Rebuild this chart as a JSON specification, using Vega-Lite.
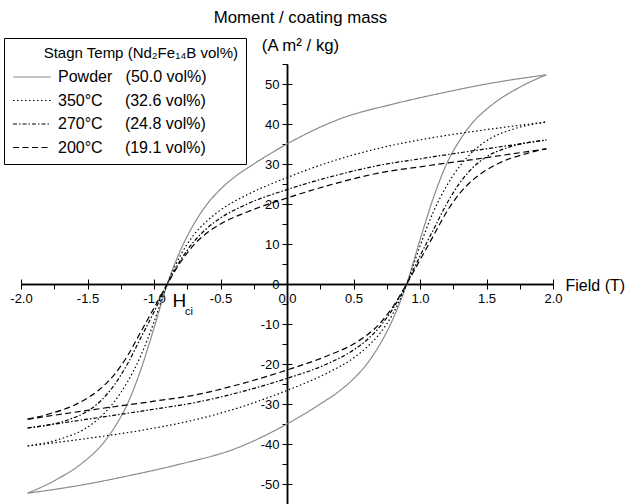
{
  "$schema": "https://vega.github.io/schema/vega-lite/v6.json",
  "width": 532,
  "height": 440,
  "autosize": {"type": "none"},
  "padding": {"left": 21, "top": 64, "right": 75, "bottom": 0},
  "config": {
    "font": "Liberation Sans",
    "view": {"stroke": null},
    "axis": {"grid": false, "domainColor": "black", "tickColor": "black", "labelColor": "black", "titleColor": "black", "domainWidth": 1.5, "tickWidth": 1, "labelFlush": false, "labelOverlap": false}
  },
  "datasets": {
    "loops": [
      {"s":"Powder","b":"l","x":-1.95,"y":-52.3},{"s":"Powder","b":"l","x":-1.5,"y":-50.0},{"s":"Powder","b":"l","x":-1.2,"y":-48.0},{"s":"Powder","b":"l","x":-0.8,"y":-45.0},{"s":"Powder","b":"l","x":-0.4,"y":-41.3},{"s":"Powder","b":"l","x":0,"y":-35.0},{"s":"Powder","b":"l","x":0.25,"y":-30.0},{"s":"Powder","b":"l","x":0.4,"y":-26.6},{"s":"Powder","b":"l","x":0.5,"y":-23.7},{"s":"Powder","b":"l","x":0.6,"y":-20},{"s":"Powder","b":"l","x":0.7,"y":-15},{"s":"Powder","b":"l","x":0.8,"y":-8.5},{"s":"Powder","b":"l","x":0.9,"y":0},{"s":"Powder","b":"l","x":1.0,"y":11},{"s":"Powder","b":"l","x":1.1,"y":21.5},{"s":"Powder","b":"l","x":1.2,"y":30},{"s":"Powder","b":"l","x":1.3,"y":36},{"s":"Powder","b":"l","x":1.4,"y":40.5},{"s":"Powder","b":"l","x":1.53,"y":44.5},{"s":"Powder","b":"l","x":1.75,"y":49.2},{"s":"Powder","b":"l","x":1.95,"y":52.3},
      {"s":"Powder","b":"u","x":1.95,"y":52.3},{"s":"Powder","b":"u","x":1.5,"y":50.0},{"s":"Powder","b":"u","x":1.2,"y":48.0},{"s":"Powder","b":"u","x":0.8,"y":45.0},{"s":"Powder","b":"u","x":0.4,"y":41.3},{"s":"Powder","b":"u","x":0,"y":35.0},{"s":"Powder","b":"u","x":-0.25,"y":30.0},{"s":"Powder","b":"u","x":-0.4,"y":26.6},{"s":"Powder","b":"u","x":-0.5,"y":23.7},{"s":"Powder","b":"u","x":-0.6,"y":20},{"s":"Powder","b":"u","x":-0.7,"y":15},{"s":"Powder","b":"u","x":-0.8,"y":8.5},{"s":"Powder","b":"u","x":-0.9,"y":0},{"s":"Powder","b":"u","x":-1.0,"y":-11},{"s":"Powder","b":"u","x":-1.1,"y":-21.5},{"s":"Powder","b":"u","x":-1.2,"y":-30},{"s":"Powder","b":"u","x":-1.3,"y":-36},{"s":"Powder","b":"u","x":-1.4,"y":-40.5},{"s":"Powder","b":"u","x":-1.53,"y":-44.5},{"s":"Powder","b":"u","x":-1.75,"y":-49.2},{"s":"Powder","b":"u","x":-1.95,"y":-52.3},
      {"s":"350°C","b":"l","x":-1.95,"y":-40.5},{"s":"350°C","b":"l","x":-1.5,"y":-38.6},{"s":"350°C","b":"l","x":-1.08,"y":-36.5},{"s":"350°C","b":"l","x":-0.7,"y":-34},{"s":"350°C","b":"l","x":-0.35,"y":-30.8},{"s":"350°C","b":"l","x":0,"y":-26.6},{"s":"350°C","b":"l","x":0.3,"y":-22.3},{"s":"350°C","b":"l","x":0.5,"y":-18.5},{"s":"350°C","b":"l","x":0.6,"y":-15.8},{"s":"350°C","b":"l","x":0.7,"y":-12.3},{"s":"350°C","b":"l","x":0.8,"y":-7.2},{"s":"350°C","b":"l","x":0.9,"y":0},{"s":"350°C","b":"l","x":1.0,"y":9.5},{"s":"350°C","b":"l","x":1.1,"y":18},{"s":"350°C","b":"l","x":1.2,"y":24.5},{"s":"350°C","b":"l","x":1.3,"y":29.5},{"s":"350°C","b":"l","x":1.4,"y":33.2},{"s":"350°C","b":"l","x":1.53,"y":36.4},{"s":"350°C","b":"l","x":1.7,"y":38.7},{"s":"350°C","b":"l","x":1.95,"y":40.5},
      {"s":"350°C","b":"u","x":1.95,"y":40.5},{"s":"350°C","b":"u","x":1.5,"y":38.6},{"s":"350°C","b":"u","x":1.08,"y":36.5},{"s":"350°C","b":"u","x":0.7,"y":34},{"s":"350°C","b":"u","x":0.35,"y":30.8},{"s":"350°C","b":"u","x":0,"y":26.6},{"s":"350°C","b":"u","x":-0.3,"y":22.3},{"s":"350°C","b":"u","x":-0.5,"y":18.5},{"s":"350°C","b":"u","x":-0.6,"y":15.8},{"s":"350°C","b":"u","x":-0.7,"y":12.3},{"s":"350°C","b":"u","x":-0.8,"y":7.2},{"s":"350°C","b":"u","x":-0.9,"y":0},{"s":"350°C","b":"u","x":-1.0,"y":-9.5},{"s":"350°C","b":"u","x":-1.1,"y":-18},{"s":"350°C","b":"u","x":-1.2,"y":-24.5},{"s":"350°C","b":"u","x":-1.3,"y":-29.5},{"s":"350°C","b":"u","x":-1.4,"y":-33.2},{"s":"350°C","b":"u","x":-1.53,"y":-36.4},{"s":"350°C","b":"u","x":-1.7,"y":-38.7},{"s":"350°C","b":"u","x":-1.95,"y":-40.5},
      {"s":"270°C","b":"l","x":-1.95,"y":-36},{"s":"270°C","b":"l","x":-1.5,"y":-33.8},{"s":"270°C","b":"l","x":-1.0,"y":-31.3},{"s":"270°C","b":"l","x":-0.7,"y":-29.7},{"s":"270°C","b":"l","x":-0.35,"y":-27},{"s":"270°C","b":"l","x":0,"y":-23.6},{"s":"270°C","b":"l","x":0.3,"y":-20},{"s":"270°C","b":"l","x":0.5,"y":-16.5},{"s":"270°C","b":"l","x":0.6,"y":-14},{"s":"270°C","b":"l","x":0.7,"y":-10.6},{"s":"270°C","b":"l","x":0.8,"y":-6},{"s":"270°C","b":"l","x":0.9,"y":0},{"s":"270°C","b":"l","x":1.0,"y":7},{"s":"270°C","b":"l","x":1.1,"y":13.5},{"s":"270°C","b":"l","x":1.2,"y":20},{"s":"270°C","b":"l","x":1.3,"y":25.3},{"s":"270°C","b":"l","x":1.4,"y":29.2},{"s":"270°C","b":"l","x":1.5,"y":31.8},{"s":"270°C","b":"l","x":1.65,"y":34},{"s":"270°C","b":"l","x":1.95,"y":36},
      {"s":"270°C","b":"u","x":1.95,"y":36},{"s":"270°C","b":"u","x":1.5,"y":33.8},{"s":"270°C","b":"u","x":1.0,"y":31.3},{"s":"270°C","b":"u","x":0.7,"y":29.7},{"s":"270°C","b":"u","x":0.35,"y":27},{"s":"270°C","b":"u","x":0,"y":23.6},{"s":"270°C","b":"u","x":-0.3,"y":20},{"s":"270°C","b":"u","x":-0.5,"y":16.5},{"s":"270°C","b":"u","x":-0.6,"y":14},{"s":"270°C","b":"u","x":-0.7,"y":10.6},{"s":"270°C","b":"u","x":-0.8,"y":6},{"s":"270°C","b":"u","x":-0.9,"y":0},{"s":"270°C","b":"u","x":-1.0,"y":-7},{"s":"270°C","b":"u","x":-1.1,"y":-13.5},{"s":"270°C","b":"u","x":-1.2,"y":-20},{"s":"270°C","b":"u","x":-1.3,"y":-25.3},{"s":"270°C","b":"u","x":-1.4,"y":-29.2},{"s":"270°C","b":"u","x":-1.5,"y":-31.8},{"s":"270°C","b":"u","x":-1.65,"y":-34},{"s":"270°C","b":"u","x":-1.95,"y":-36},
      {"s":"200°C","b":"l","x":-1.95,"y":-33.8},{"s":"200°C","b":"l","x":-1.5,"y":-31.6},{"s":"200°C","b":"l","x":-1.0,"y":-29.3},{"s":"200°C","b":"l","x":-0.7,"y":-27.8},{"s":"200°C","b":"l","x":-0.35,"y":-25},{"s":"200°C","b":"l","x":0,"y":-21.5},{"s":"200°C","b":"l","x":0.3,"y":-18},{"s":"200°C","b":"l","x":0.5,"y":-15},{"s":"200°C","b":"l","x":0.6,"y":-12.8},{"s":"200°C","b":"l","x":0.7,"y":-9.8},{"s":"200°C","b":"l","x":0.8,"y":-5.5},{"s":"200°C","b":"l","x":0.9,"y":0},{"s":"200°C","b":"l","x":1.0,"y":6},{"s":"200°C","b":"l","x":1.1,"y":12},{"s":"200°C","b":"l","x":1.2,"y":18},{"s":"200°C","b":"l","x":1.3,"y":22.7},{"s":"200°C","b":"l","x":1.4,"y":26.1},{"s":"200°C","b":"l","x":1.5,"y":28.5},{"s":"200°C","b":"l","x":1.6,"y":30.3},{"s":"200°C","b":"l","x":1.8,"y":32.6},{"s":"200°C","b":"l","x":1.95,"y":33.8},
      {"s":"200°C","b":"u","x":1.95,"y":33.8},{"s":"200°C","b":"u","x":1.5,"y":31.6},{"s":"200°C","b":"u","x":1.0,"y":29.3},{"s":"200°C","b":"u","x":0.7,"y":27.8},{"s":"200°C","b":"u","x":0.35,"y":25},{"s":"200°C","b":"u","x":0,"y":21.5},{"s":"200°C","b":"u","x":-0.3,"y":18},{"s":"200°C","b":"u","x":-0.5,"y":15},{"s":"200°C","b":"u","x":-0.6,"y":12.8},{"s":"200°C","b":"u","x":-0.7,"y":9.8},{"s":"200°C","b":"u","x":-0.8,"y":5.5},{"s":"200°C","b":"u","x":-0.9,"y":0},{"s":"200°C","b":"u","x":-1.0,"y":-6},{"s":"200°C","b":"u","x":-1.1,"y":-12},{"s":"200°C","b":"u","x":-1.2,"y":-18},{"s":"200°C","b":"u","x":-1.3,"y":-22.7},{"s":"200°C","b":"u","x":-1.4,"y":-26.1},{"s":"200°C","b":"u","x":-1.5,"y":-28.5},{"s":"200°C","b":"u","x":-1.6,"y":-30.3},{"s":"200°C","b":"u","x":-1.8,"y":-32.6},{"s":"200°C","b":"u","x":-1.95,"y":-33.8}
    ]
  },
  "resolve": {"axis": {"x": "independent", "y": "independent"}},
  "layer": [
    {
      "data": {"name": "loops"},
      "mark": {"type": "line", "interpolate": "monotone", "strokeWidth": 1.2},
      "encoding": {
        "x": {"field": "x", "type": "quantitative", "scale": {"domain": [-2, 2], "nice": false, "zero": false},
          "axis": {"orient": "bottom", "offset": -220, "values": [-2,-1.75,-1.5,-1.25,-1,-0.75,-0.5,-0.25,0,0.25,0.5,0.75,1,1.25,1.5,1.75,2], "tickSize": 5, "labelFontSize": 13, "labelPadding": 3,
            "labelExpr": "abs(datum.value*2-round(datum.value*2))<0.01 ? (datum.value<0?'-':'')+format(abs(datum.value),'.1f') : ''",
            "title": "Field (T)", "titleX": 544, "titleY": 1, "titleAlign": "left", "titleBaseline": "middle", "titleAngle": 0, "titleFontSize": 16, "titleFontWeight": "normal"}},
        "y": {"field": "y", "type": "quantitative", "scale": {"domain": [-55, 55], "nice": false, "zero": false},
          "axis": {"orient": "left", "offset": -266, "values": [-55,-50,-45,-40,-35,-30,-25,-20,-15,-10,-5,0,5,10,15,20,25,30,35,40,45,50,55], "tickSize": 5, "labelFontSize": 13, "labelPadding": 3,
            "labelExpr": "datum.value%10===0 ? (datum.value<0?'-':'')+format(abs(datum.value),'d') : ''",
            "title": ["Moment / coating mass", "(A m² / kg)"], "titleAngle": 0, "titleX": 13, "titleY": -41.5, "titleAlign": "center", "titleBaseline": "alphabetic", "titleFontSize": 16.8, "titleLineHeight": 28, "titleFontWeight": "normal"}},
        "detail": {"field": "b"},
        "order": {"field": "x", "type": "quantitative"},
        "color": {"field": "s", "type": "nominal", "scale": {"domain": ["Powder", "350°C", "270°C", "200°C"], "range": ["#8c8c8c", "black", "black", "black"]},
          "legend": {"title": "Stagn Temp (Nd₂Fe₁₄B vol%)", "orient": "none", "legendX": -17, "legendY": -26, "direction": "vertical", "strokeColor": "black", "fillColor": "white", "padding": 8, "symbolType": "stroke", "symbolSize": 1444, "symbolStrokeWidth": 1.2, "clipHeight": 16, "labelFontSize": 16, "labelOffset": 6, "labelLimit": 400, "titleLimit": 400, "titleFontSize": 15, "titleFontWeight": "normal", "titleAnchor": "end", "titlePadding": 8, "rowPadding": 7.5, "labelColor": "black", "titleColor": "black",
            "labelExpr": "datum.label==='Powder' ? 'Powder\u00a0\u00a0\u00a0(50.0 vol%)\u00a0\u00a0\u00a0\u00a0\u00a0\u00a0\u00a0\u200b' : datum.label==='350°C' ? '350°C\u00a0\u00a0\u00a0\u00a0\u00a0(32.6 vol%)' : datum.label==='270°C' ? '270°C\u00a0\u00a0\u00a0\u00a0\u00a0(24.8 vol%)' : '200°C\u00a0\u00a0\u00a0\u00a0\u00a0(19.1 vol%)'"}},
        "strokeDash": {"field": "s", "type": "nominal", "scale": {"domain": ["Powder", "350°C", "270°C", "200°C"], "range": [[1, 0], [1.5, 2.5], [4, 2, 1.5, 2], [6, 3.5]]}}
      }
    },
    {
      "data": {"values": [{"t": "H", "x": -0.81, "y": -5.75}]},
      "mark": {"type": "text", "fontSize": 19, "align": "center", "baseline": "alphabetic", "color": "black"},
      "encoding": {
        "text": {"field": "t"},
        "x": {"field": "x", "type": "quantitative", "scale": {"domain": [-2, 2], "nice": false, "zero": false},
          "axis": {"orient": "top", "offset": -220, "values": [-2,-1.5,-1,-0.5,0,0.5,1,1.5,2], "tickSize": 5, "labels": false, "title": null}},
        "y": {"field": "y", "type": "quantitative", "scale": {"domain": [-55, 55], "nice": false, "zero": false},
          "axis": {"orient": "right", "offset": -266, "values": [-50,-40,-30,-20,-10,0,10,20,30,40,50], "tickSize": 5, "labels": false, "title": null}}
      }
    },
    {
      "data": {"values": [{"t": "ci", "x": -0.737, "y": -7.75}]},
      "mark": {"type": "text", "fontSize": 11, "align": "center", "baseline": "alphabetic", "color": "black"},
      "encoding": {
        "text": {"field": "t"},
        "x": {"field": "x", "type": "quantitative", "axis": null},
        "y": {"field": "y", "type": "quantitative", "axis": null}
      }
    }
  ]
}
